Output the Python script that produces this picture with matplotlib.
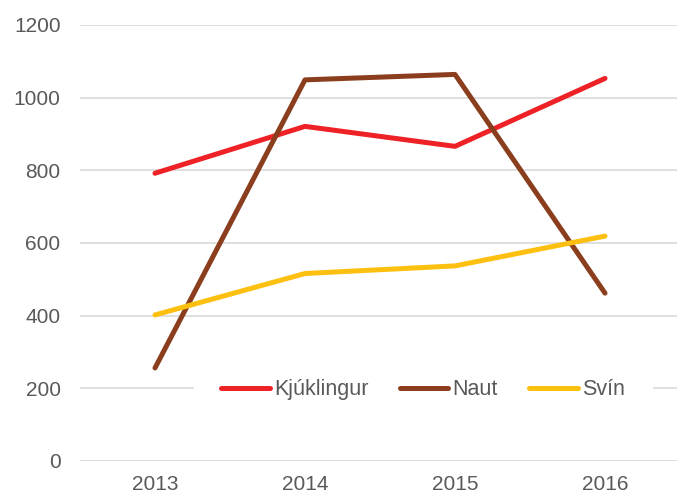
import matplotlib.pyplot as plt

# data
years = ['2013', '2014', '2015', '2016']
kjuklingur = [792, 921, 866, 1053]
naut = [256, 1049, 1064, 462]
svin = [402, 516, 537, 619]

colors = {'Kjúklingur': '#EE2226', 'Naut': '#8B3E1E', 'Svín': '#FDC010'}
grey = '#595959'

plt.rcParams['font.family'] = ['Liberation Sans', 'DejaVu Sans']

fig = plt.figure(figsize=(6.77, 4.97), dpi=100)
ax = fig.add_axes([80/677, 36/497, 600/677, 436/497])

x = range(len(years))
for name, vals in [('Kjúklingur', kjuklingur), ('Naut', naut), ('Svín', svin)]:
    ax.plot(x, vals, color=colors[name], lw=3.6, solid_capstyle='round',
            label=name, zorder=3)

ax.set_xlim(-0.5, 3.5)
ax.set_ylim(0, 1200)
ax.set_yticks(range(0, 1201, 200))
ax.set_xticks(list(x))
ax.set_xticklabels(years)
ax.grid(axis='y', color='#D9D9D9', lw=1.2)
ax.set_axisbelow(True)
for s in ax.spines.values():
    s.set_visible(False)
ax.tick_params(length=0, labelsize=15, colors=grey)
ax.tick_params(axis='y', pad=14)
ax.tick_params(axis='x', pad=10)

leg = ax.legend(ncol=3, loc='center', bbox_to_anchor=(0.572, 0.163),
                frameon=True, fontsize=15.5, handlelength=2.25,
                handletextpad=0.2, columnspacing=1.45, borderpad=1.3)
leg.get_frame().set_facecolor('white')
leg.get_frame().set_edgecolor('none')
leg.get_frame().set_alpha(1)
for t in leg.get_texts():
    t.set_color(grey)

fig.savefig('out.png', dpi=100)
